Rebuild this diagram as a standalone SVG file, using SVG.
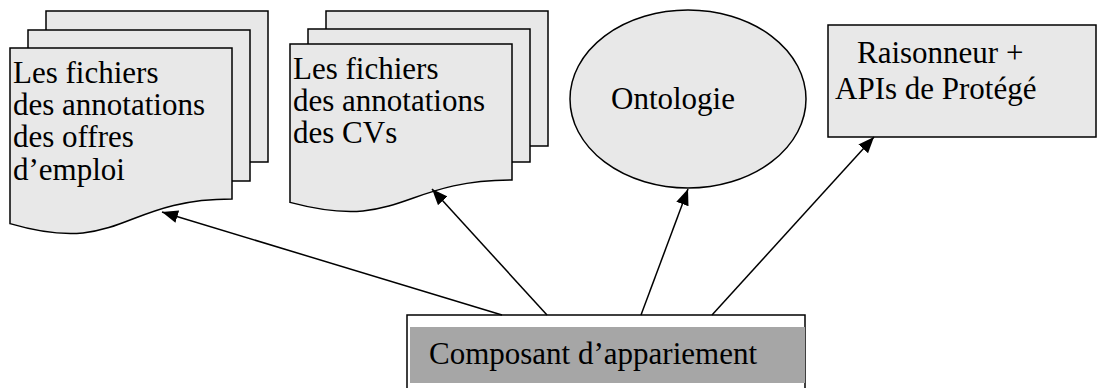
<svg xmlns="http://www.w3.org/2000/svg" width="1099" height="388" viewBox="0 0 1099 388">
  <defs>
    <style>
      .shape { fill: #e8e8e8; stroke: #000; stroke-width: 1.5; }
      .label { font-family: 'Liberation Serif', 'DejaVu Serif', 'Times New Roman', serif; font-size: 31px; fill: #000; }
      .link { stroke: #000; stroke-width: 1.5; fill: none; marker-end: url(#arrow); }
    </style>
    <marker id="arrow" markerUnits="userSpaceOnUse" markerWidth="18" markerHeight="14" refX="16" refY="6.5" orient="auto">
      <path d="M0,0 L16,6.5 L0,13 Z" fill="#000"/>
    </marker>
  </defs>

  <rect width="1099" height="388" fill="#fff"/>

  <!-- Stack of job-offer annotation files -->
  <g id="offres">
    <rect class="shape" x="46" y="11" width="222" height="151"/>
    <rect class="shape" x="28" y="30" width="222" height="151"/>
    <path class="shape" d="M10,48 L232,48 L232,199 C121,199 121,256 10,223.6 Z"/>
    <text class="label" x="13" y="83">Les fichiers</text>
    <text class="label" x="13" y="115">des annotations</text>
    <text class="label" x="13" y="147">des offres</text>
    <text class="label" x="13" y="180">d’emploi</text>
  </g>

  <!-- Stack of CV annotation files -->
  <g id="cvs">
    <rect class="shape" x="326" y="11" width="222" height="135"/>
    <rect class="shape" x="308" y="29" width="222" height="133"/>
    <path class="shape" d="M290,44 L512,44 L512,180 C401,180 401,232 290,202.4 Z"/>
    <text class="label" x="293" y="79">Les fichiers</text>
    <text class="label" x="293" y="111">des annotations</text>
    <text class="label" x="293" y="143">des CVs</text>
  </g>

  <!-- Ontology -->
  <g id="ontologie">
    <ellipse class="shape" cx="688" cy="99" rx="118" ry="89"/>
    <text class="label" x="611" y="109">Ontologie</text>
  </g>

  <!-- Reasoner and Protégé APIs -->
  <g id="raisonneur">
    <rect class="shape" x="828" y="25" width="268" height="112"/>
    <text class="label" x="857" y="63">Raisonneur +</text>
    <text class="label" x="835" y="99">APIs de Protégé</text>
  </g>

  <!-- Matching component -->
  <g id="appariement">
    <rect x="407" y="315" width="398" height="80" fill="#fff" stroke="#000" stroke-width="1.5"/>
    <rect x="410" y="327" width="395" height="56" fill="#a6a6a6"/>
    <text class="label" x="429" y="364">Composant d’appariement</text>
  </g>

  <!-- Connectors -->
  <g id="connectors">
    <line class="link" x1="502" y1="315" x2="162" y2="212"/>
    <line class="link" x1="547" y1="315" x2="432" y2="189"/>
    <line class="link" x1="641" y1="315" x2="688" y2="189"/>
    <line class="link" x1="712" y1="315" x2="874" y2="137"/>
  </g>
</svg>
